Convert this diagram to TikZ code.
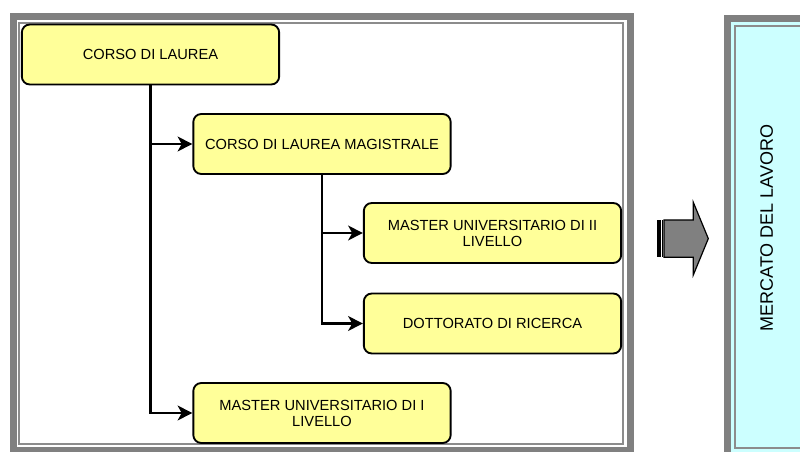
\documentclass[tikz,border=0pt]{standalone}
\usepackage{fontspec}
\setmainfont{Liberation Sans}
\usetikzlibrary{arrows.meta}
\definecolor{boxyellow}{HTML}{FFFF99}
\definecolor{panelcyan}{HTML}{CCFFFF}
\definecolor{framegray}{HTML}{808080}
\definecolor{linegray}{HTML}{8C8C8C}
\begin{document}
\begin{tikzpicture}[x=0.75pt,y=-0.75pt,
  box/.style={draw=black,fill=boxyellow,line width=1.4pt,rounded corners=6pt,
    minimum width=193pt,minimum height=45pt,inner sep=0pt,align=center,
    font=\fontsize{11}{12}\selectfont},
  conn/.style={line width=2pt,-{Stealth[length=11pt,width=11pt,inset=3pt]}},
  band/.style={draw=framegray,line width=5pt},
  thinline/.style={draw=linegray,line width=1.5pt}]
\useasboundingbox (0,0) rectangle (800,452);
% left frame
\draw[band,fill=white] (13.4,16.4) rectangle (630.4,450.5);
\draw[thinline] (19,23) rectangle (623,444.3);
% right panel
\draw[band,fill=panelcyan] (727.7,18.6) rectangle (830,470);
\draw[thinline] (734.5,26.2) rectangle (830,448);
% boxes
\node[box] (b1) at (150.5,54.5) {CORSO DI LAUREA};
\node[box] (b2) at (322,144) {CORSO DI LAUREA MAGISTRALE};
\node[box] (b3) at (492.5,233) {MASTER UNIVERSITARIO DI II\\LIVELLO};
\node[box] (b4) at (492.5,323.5) {DOTTORATO DI RICERCA};
\node[box] (b5) at (322,413) {MASTER UNIVERSITARIO DI I\\LIVELLO};
% connectors
\draw[conn] (b1.south) |- (b5.west);
\draw[conn] (b1.south |- b2.west) -- (b2.west);
\draw[conn] (b2.south) |- (b4.west);
\draw[conn] (b2.south |- b3.west) -- (b3.west);
% striped arrow
\fill[black] (656.7,220) rectangle (660.6,257.3);
\fill[black] (661.8,220) rectangle (663.4,257.3);
\draw[fill=framegray,line width=0.9pt,line join=miter]
  (664,220) -- (693.3,220) -- (693.3,202.3) -- (708.3,238.6)
  -- (693.3,275) -- (693.3,257.3) -- (664,257.3) -- cycle;
% label
\node[rotate=90,inner sep=0pt,font=\fontsize{13.5}{15}\selectfont] (lab) at (766.7,228) {MERCATO DEL LAVORO};
\end{tikzpicture}
\end{document}
